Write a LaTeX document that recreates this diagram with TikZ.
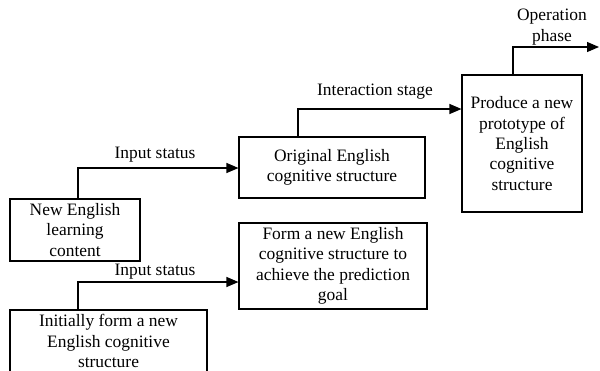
\documentclass[tikz,border=0pt]{standalone}
\usepackage{fontspec}
\setmainfont{Liberation Serif}
\usetikzlibrary{arrows.meta}
\begin{document}
\begin{tikzpicture}[x=1bp,y=-1bp,
  box/.style={draw,line width=1.1bp,inner sep=0pt,align=center,
    font=\fontsize{17.5}{20.5}\selectfont},
  flow/.style={line width=1.1bp,-{Triangle[length=12bp,width=10bp]}},
  lbl/.style={inner sep=0pt,align=center,font=\fontsize{17.5}{20.5}\selectfont}]
\useasboundingbox (0,0) rectangle (600,370);
\begin{scope}
\clip (0,0) rectangle (600,370);
% boxes
\node[box,minimum width=130bp,minimum height=62bp] (learn) at (75,230)
  {New English\\learning\\content};
\node[box,minimum width=197bp,minimum height=62bp] (initial) at (108.5,341)
  {Initially form a new\\English cognitive\\structure};
\node[box,minimum width=186bp,minimum height=61bp] (orig) at (332,167.5)
  {Original English\\cognitive structure};
\node[box,minimum width=188bp,minimum height=86bp] (goal) at (333,266)
  {Form a new English\\cognitive structure to\\achieve the prediction\\goal};
\node[box,minimum width=120bp,minimum height=137bp] (proto) at (522,143.5)
  {Produce a new\\prototype of\\English\\cognitive\\structure};
\coordinate (out) at (599,47);
% connectors
\draw[flow] (learn.north -| 78,0) |- (orig.west |- 0,168);
\draw[flow] (initial.north -| 78,0) |- (goal.west |- 0,282);
\draw[flow] (orig.north -| 298,0) |- (proto.west |- 0,109);
\draw[flow] (proto.north -| 513,0) |- (out);
\end{scope}
% labels
\node[lbl] (l1) at (155,155) {Input status};
\node[lbl] (l2) at (155,272) {Input status};
\node[lbl] (l3) at (375,92) {Interaction stage};
\node[lbl] (l4) at (552,27) {Operation\\phase};
\end{tikzpicture}
\end{document}
